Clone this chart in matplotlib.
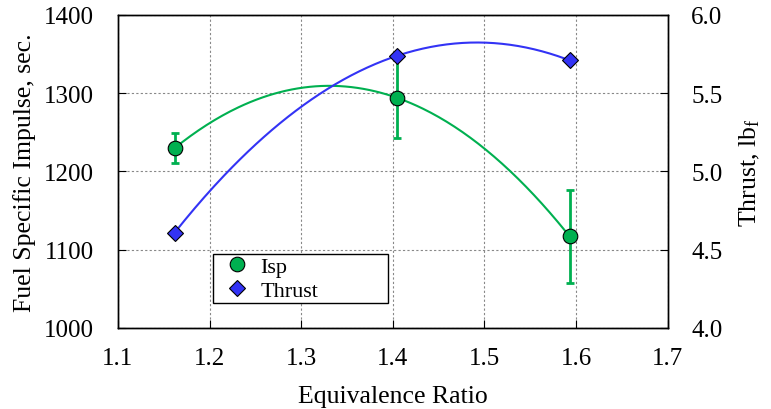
import numpy as np
import matplotlib
matplotlib.use("Agg")
import matplotlib.pyplot as plt
from matplotlib.lines import Line2D

plt.rcParams['font.family'] = ['Liberation Serif', 'DejaVu Serif']
plt.rcParams['mathtext.fontset'] = 'custom'
plt.rcParams['mathtext.rm'] = 'Liberation Serif'
plt.rcParams['mathtext.it'] = 'Liberation Serif'

phi = [1.162, 1.405, 1.593]
isp = [1230, 1294, 1117]
isp_err = [19, 51, 59]
thrust = [4.61, 5.74, 5.71]

green = '#00B050'
blue = '#3333F5'

fig = plt.figure(figsize=(7.71, 4.10), dpi=100)
ax = fig.add_axes([0.153, 0.1976, 0.713, 0.7634])
ax2 = ax.twinx()

# quadratic trend lines fitted to the data
xs = np.linspace(min(phi), max(phi), 200)
pi = np.polyfit(phi, isp, 2)
pt = np.polyfit(phi, thrust, 2)
ax.plot(xs, np.polyval(pi, xs), color=green, lw=1.5, zorder=2)
ax2.plot(xs, np.polyval(pt, xs), color=blue, lw=1.5, zorder=2)

ax.errorbar(phi, isp, yerr=isp_err, fmt='none', ecolor=green, elinewidth=2,
            capsize=3, capthick=2, zorder=3)
ax.plot(phi, isp, 'o', color=green, mec='black', mew=0.8, ms=10.5, zorder=4)
ax2.plot(phi, thrust, 'D', color=blue, mec='black', mew=0.8, ms=8, zorder=4)

ax.set_xlim(1.1, 1.7)
ax.set_ylim(1000, 1400)
ax2.set_ylim(4.0, 6.0)
ax.set_xticks(np.arange(1.1, 1.71, 0.1))
ax.set_xticklabels(['1.1', '1.2', '1.3', '1.4', '1.5', '1.6', '1.7'])
ax.set_yticks([1000, 1100, 1200, 1300, 1400])
ax2.set_yticks([4.0, 4.5, 5.0, 5.5, 6.0])
ax2.set_yticklabels(['4.0', '4.5', '5.0', '5.5', '6.0'])

ax.grid(True, linestyle=(0, (2, 2)), color='#888888', lw=0.8)
ax.set_axisbelow(True)

ax.tick_params(axis='x', direction='in', labelsize=18, length=6, pad=14)
ax.tick_params(axis='y', direction='in', labelsize=18, length=6, pad=17)
ax2.tick_params(axis='y', direction='in', labelsize=18, length=6, pad=17)
for a in (ax, ax2):
    for s in a.spines.values():
        s.set_linewidth(1.0)

ax.set_xlabel('Equivalence Ratio', fontsize=18.5, labelpad=11)
ax.set_ylabel('Fuel Specific Impulse, sec.', fontsize=18.5, labelpad=6)
ax2.set_ylabel(r'Thrust, lb$_\mathregular{f}$', fontsize=18.5, labelpad=11)

h = [Line2D([], [], ls='none', marker='o', color=green, mec='black', mew=0.8, ms=10.5),
     Line2D([], [], ls='none', marker='D', color=blue, mec='black', mew=0.8, ms=8)]
leg = ax2.legend(h, ['Isp', 'Thrust'], loc='lower left',
                 bbox_to_anchor=(0.1727, 0.080, 0.318, 0.163), mode='expand',
                 fontsize=16, frameon=True, fancybox=False, edgecolor='black',
                 framealpha=1, borderpad=0.1, handletextpad=0.08, labelspacing=0.15,
                 handlelength=1.96, borderaxespad=0)
leg.get_frame().set_linewidth(1.0)

fig.savefig('out.png', dpi=100)
